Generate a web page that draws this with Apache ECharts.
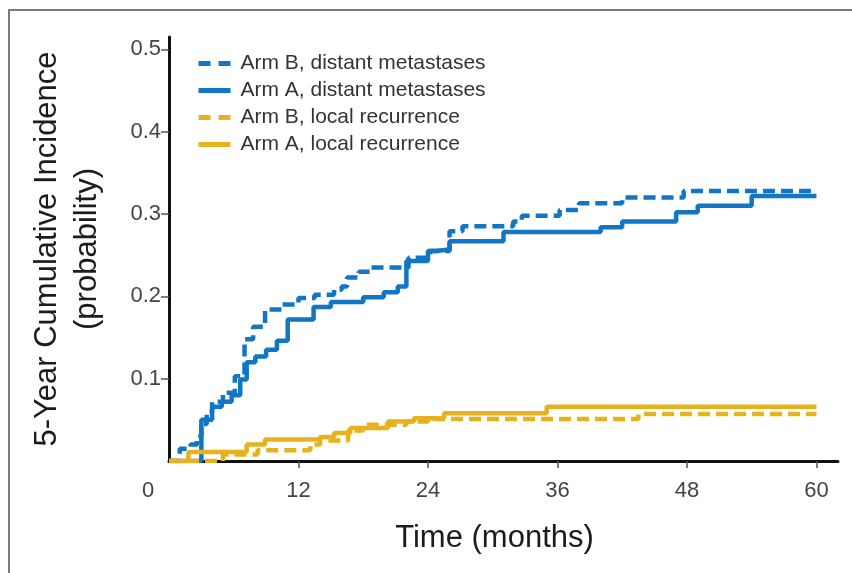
<!DOCTYPE html>
<html>
<head>
<meta charset="utf-8">
<script src="https://cdn.jsdelivr.net/npm/echarts@6/dist/echarts.min.js"></script>
<style>
  html, body { margin: 0; padding: 0; background: #fff; }
  #chart { width: 852px; height: 573px; }
</style>
</head>
<body>
<div id="chart"></div>
<script>
// Cumulative incidence step curves: times in months, probabilities as read at each step.
const armBDistTime = [0, 1.0, 2.0, 2.6, 3.0, 3.5, 4.0, 5.0, 6.1, 7.0, 7.8, 8.9, 10.5, 12.0, 13.5, 15.3, 16.0, 16.5, 17.6, 18.7, 22.2, 24.2, 26.0, 27.2, 31.9, 32.7, 36.2, 38.0, 42.0, 47.7, 60];
const armBDistProb = [0, 0.015, 0.02, 0.03, 0.045, 0.06, 0.072, 0.083, 0.103, 0.148, 0.163, 0.184, 0.19, 0.198, 0.202, 0.208, 0.212, 0.223, 0.23, 0.235, 0.247, 0.255, 0.279, 0.285, 0.291, 0.298, 0.305, 0.313, 0.32, 0.328, 0.328];

const armADistTime = [0, 3.0, 4.0, 4.9, 5.8, 6.6, 7.2, 8.0, 9.0, 10.0, 11.0, 13.4, 15.0, 18.0, 19.9, 21.2, 22.0, 24.0, 24.7, 26.0, 31.0, 40.0, 42.0, 47.0, 49.0, 54.0, 60];
const armADistProb = [0, 0.05, 0.066, 0.072, 0.08, 0.099, 0.12, 0.127, 0.135, 0.146, 0.172, 0.187, 0.193, 0.199, 0.205, 0.212, 0.243, 0.255, 0.257, 0.267, 0.278, 0.284, 0.291, 0.302, 0.31, 0.322, 0.322];

const armBLocalTime = [0, 5.0, 8.2, 13.1, 14.0, 16.6, 18.0, 22.0, 24.0, 43.5, 60];
const armBLocalProb = [0, 0.008, 0.013, 0.02, 0.025, 0.037, 0.044, 0.048, 0.051, 0.057, 0.057];

const armALocalTime = [0, 1.8, 7.2, 8.9, 14.0, 15.3, 16.8, 20.3, 22.7, 25.5, 35.0, 60];
const armALocalProb = [0, 0.011, 0.02, 0.026, 0.029, 0.034, 0.04, 0.048, 0.052, 0.058, 0.066, 0.066];

const seriesNames = ['Arm B, distant metastases', 'Arm A, distant metastases', 'Arm B, local recurrence', 'Arm A, local recurrence'];
const seriesDashed = [true, false, true, false];
const xTicks = [0, 12, 24, 36, 48, 60];
const yTicks = [0.1, 0.2, 0.3, 0.4, 0.5];

const BLUE = '#1176c6';
const GOLD = '#e6b31e';
const LABEL_FONT = "'Liberation Sans', Arial, sans-serif";

function pairs(ts, vs) { return ts.map((t, i) => [t, vs[i]]); }

function stepSeries(name, ts, vs, color, dashed) {
  return {
    name: name,
    type: 'line',
    step: 'end',
    symbol: 'none',
    data: pairs(ts, vs),
    lineStyle: { color: color, width: 4.5, type: dashed ? [12, 6] : 'solid', cap: 'butt' },
    itemStyle: { color: color },
    emphasis: { disabled: true },
    animation: false
  };
}

const chart = echarts.init(document.getElementById('chart'), null, { renderer: 'canvas' });

chart.setOption({
  backgroundColor: '#ffffff',
  animation: false,
  graphic: [{
    type: 'rect',
    shape: { x: 9, y: 10, width: 900, height: 600 },
    style: { fill: 'none', stroke: '#7a7a7a', lineWidth: 2 },
    silent: true,
    z: -10
  }],
  grid: { left: 169, top: 37, right: 14, bottom: 112 },
  legend: {
    orient: 'vertical',
    left: 191,
    top: 48,
    itemWidth: 32,
    itemHeight: 14,
    itemGap: 6,
    itemStyle: { opacity: 0 },
    data: seriesNames.map((n, i) => ({
      name: n,
      lineStyle: { width: 5, type: seriesDashed[i] ? [12, 8] : 'solid' }
    })),
    textStyle: { fontSize: 21, color: '#333', fontFamily: LABEL_FONT, padding: [0, 0, 0, 5] }
  },
  xAxis: {
    type: 'value',
    min: 0,
    max: 62,
    splitLine: { show: false },
    axisLine: { lineStyle: { color: '#111', width: 3 } },
    axisTick: { customValues: [12, 24, 36, 48, 60], length: 7, lineStyle: { color: '#555', width: 1.5 } },
    axisLabel: {
      customValues: xTicks,
      margin: 19,
      fontSize: 22,
      color: '#444',
      fontFamily: LABEL_FONT,
      formatter: v => v === 0 ? '{z|0}' : String(v),
      rich: { z: { fontSize: 22, color: '#444', fontFamily: LABEL_FONT, padding: [0, 42, 0, 0] } }
    },
    name: 'Time (months)',
    nameLocation: 'middle',
    nameGap: 62,
    nameTextStyle: { fontSize: 31, color: '#1c1c1c', padding: [0, 18, 0, 0] }
  },
  yAxis: {
    type: 'value',
    min: 0,
    max: 0.515,
    splitLine: { show: false },
    axisLine: { lineStyle: { color: '#111', width: 3 } },
    axisTick: { customValues: yTicks, length: 8, lineStyle: { color: '#555', width: 1.5 } },
    axisLabel: {
      customValues: yTicks,
      margin: 8,
      fontSize: 22,
      color: '#444',
      fontFamily: LABEL_FONT,
      formatter: v => v.toFixed(1)
    },
    name: '5-Year Cumulative Incidence\n(probability)',
    nameLocation: 'middle',
    nameGap: 62,
    nameTextStyle: { fontSize: 31, lineHeight: 40, color: '#1c1c1c', align: 'center' }
  },
  series: seriesNames.map((n, i) => stepSeries(
    n,
    [armBDistTime, armADistTime, armBLocalTime, armALocalTime][i],
    [armBDistProb, armADistProb, armBLocalProb, armALocalProb][i],
    i < 2 ? BLUE : GOLD,
    seriesDashed[i]
  ))
});
</script>
</body>
</html>
